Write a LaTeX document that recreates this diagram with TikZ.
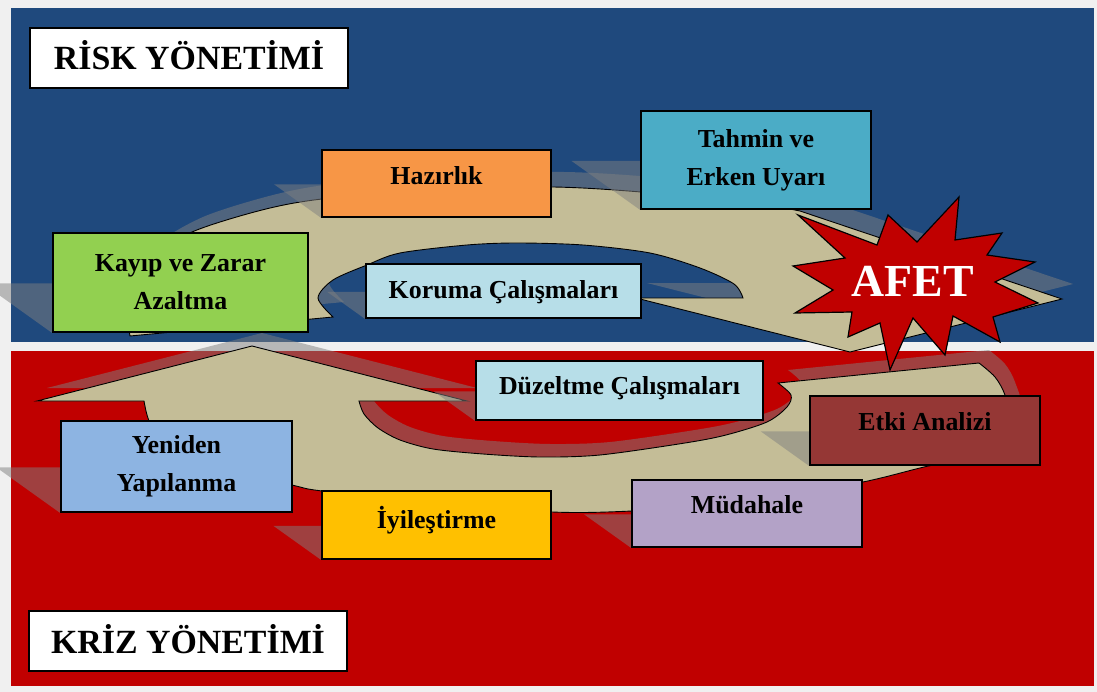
\documentclass[tikz,border=0pt]{standalone}
\usepackage{fontspec}
\setmainfont{Liberation Serif}
\usetikzlibrary{calc}

\definecolor{riskblue}{HTML}{1F497D}
\definecolor{krizred}{HTML}{C00000}
\definecolor{paper}{HTML}{F0F0F0}
\definecolor{arrowbeige}{HTML}{C4BD97}
\definecolor{hazirlikc}{HTML}{F79646}
\definecolor{tahminc}{HTML}{4BACC6}
\definecolor{kayipc}{HTML}{92D050}
\definecolor{korumac}{HTML}{B7DEE8}
\definecolor{etkic}{HTML}{953735}
\definecolor{mudahalec}{HTML}{B3A2C7}
\definecolor{iyilesc}{HTML}{FFC000}
\definecolor{yenidenc}{HTML}{8DB4E2}

\pgfdeclarelayer{ground}
\pgfdeclarelayer{arrowshade}
\pgfdeclarelayer{arrows}
\pgfdeclarelayer{boxshade}
\pgfsetlayers{ground,arrowshade,arrows,boxshade,main}

% risk cycle (upper) and kriz cycle (lower) arrows
\newcommand{\riskcycle}{plot[smooth] coordinates {(130,336) (127,300) (143,262) (192,232) (262,210) (322,199) (440,189) (553,187) (641,192) (765,204)} -- (800,211) -- (1062,299) -- (850,352) -- (636,298) -- plot[smooth] coordinates {(743,298) (734,284) (700,268) (650,253) (583,245) (517,243) (467,245) (400,253) (367,265) (333,280) (318,298) (333,317)} -- cycle}
\newcommand{\krizcycle}{(252,346) -- (467,401) -- (359,401) -- plot[smooth] coordinates {(359,401) (364,414) (378,428) (400,440) (433,449) (483,454) (540,457) (600,455) (685,443) (726,435) (767,422) (787,407) (791,395) (778,383)} -- (979,363) -- plot[smooth] coordinates {(979,363) (995,377) (1005,395) (1012,425) (990,452) (924,467) (863,482) (750,503) (632,511) (552,512) (430,503) (322,491) (292,485) (200,462) (158,437) (148,418) (144,401)} -- (37,401) -- cycle}

\begin{document}
\begin{tikzpicture}[
  x=1bp, y=-1bp,
  phase/.style={draw=black, line width=1.8bp, inner sep=0pt, align=center,
    font=\bfseries\fontsize{26}{38}\selectfont},
  boxsize/.style 2 args={minimum width=#1bp, minimum height=#2bp},
  oneline/.style={text height=17bp, text depth=#1},
  titlebox/.style={draw=black, line width=1.8bp, fill=white, inner sep=0pt,
    minimum width=318bp, minimum height=60bp, font=\bfseries\fontsize{34}{40}\selectfont,
    text height=24bp, text depth=0bp},
  spiral/.style={fill=arrowbeige, draw=black, line width=0.9bp},
  castshade/.style={fill=gray, fill opacity=0.5},
  burst/.style={fill=krizred, draw=black, line width=1.2bp}
]
\useasboundingbox (0,0) rectangle (1097,692);

% risk side
\node[phase, boxsize={229}{67}, fill=hazirlikc, oneline=15bp] (hazirlik) at (436.5,183.5) {Hazırlık};
\node[phase, boxsize={230}{98}, fill=tahminc] (tahmin) at (756,160) {Tahmin ve\\Erken Uyarı};
\node[phase, boxsize={255}{99}, fill=kayipc] (kayip) at (180.5,282.5) {Kayıp ve Zarar\\Azaltma};
\node[phase, boxsize={275}{54}, fill=korumac, oneline=2bp] (koruma) at (503.5,291) {Koruma Çalışmaları};

% kriz side
\node[phase, boxsize={287}{59}, fill=korumac, oneline=9bp] (duzeltme) at (619.5,390.5) {Düzeltme Çalışmaları};
\node[phase, boxsize={230}{69}, fill=etkic, oneline=17bp] (etki) at (925,430.5) {Etki Analizi};
\node[phase, boxsize={230}{67}, fill=mudahalec, oneline=17bp] (mudahale) at (747,513.5) {Müdahale};
\node[phase, boxsize={229}{68}, fill=iyilesc, oneline=10bp] (iyiles) at (436.5,525) {İyileştirme};
\node[phase, boxsize={231}{91}, fill=yenidenc] (yeniden) at (176.5,466.5) {Yeniden\\Yapılanma};

% titles
\node[titlebox] (risk) at (189,58) {RİSK YÖNETİMİ};
\node[titlebox] (kriz) at (188,641) {KRİZ YÖNETİMİ};

% disaster burst
\draw[burst] (798,215) -- (877,245) -- (888,215) -- (917,242) -- (959,197) -- (955,240)
  -- (1002,233) -- (987,255) -- (1035,262) -- (995,282) -- (1038,303) -- (993,317)
  -- (1000,342) -- (953,316) -- (945,355) -- (913,318) -- (890,370) -- (880,323)
  -- (848,337) -- (852,312) -- (795,313) -- (833,290) -- (793,266) -- (845,258) -- cycle;
\node[inner sep=0pt, text=white, font=\bfseries\fontsize{46}{46}\selectfont,
  text height=30bp, text depth=0bp] (afet) at (913,281) {AFET};

% box shadows
\begin{pgfonlayer}{boxshade}
\foreach \n/\h in {hazirlik/67, tahmin/98, kayip/99, koruma/54, duzeltme/59,
                   etki/69, mudahale/67, iyiles/68, yeniden/91}
  \fill[castshade] (\n.south west) -- (\n.south east)
    -- ([shift={(-0.7*\h,-0.5*\h)}]\n.south east)
    -- ([shift={(-0.7*\h,-0.5*\h)}]\n.south west) -- cycle;
\end{pgfonlayer}

% cycle arrows
\begin{pgfonlayer}{arrows}
\filldraw[spiral] \riskcycle;
\filldraw[spiral] \krizcycle;
\end{pgfonlayer}
\begin{pgfonlayer}{arrowshade}
\fill[castshade, shift={(11,-15)}] \riskcycle;
\fill[castshade, shift={(10,-13)}] \krizcycle;
\end{pgfonlayer}

% panels
\begin{pgfonlayer}{ground}
\fill[paper] (0,0) rectangle (1097,692);
\fill[riskblue] (11,8) rectangle (1094,342);
\fill[krizred] (11,351) rectangle (1094,686);
\end{pgfonlayer}
\end{tikzpicture}
\end{document}
